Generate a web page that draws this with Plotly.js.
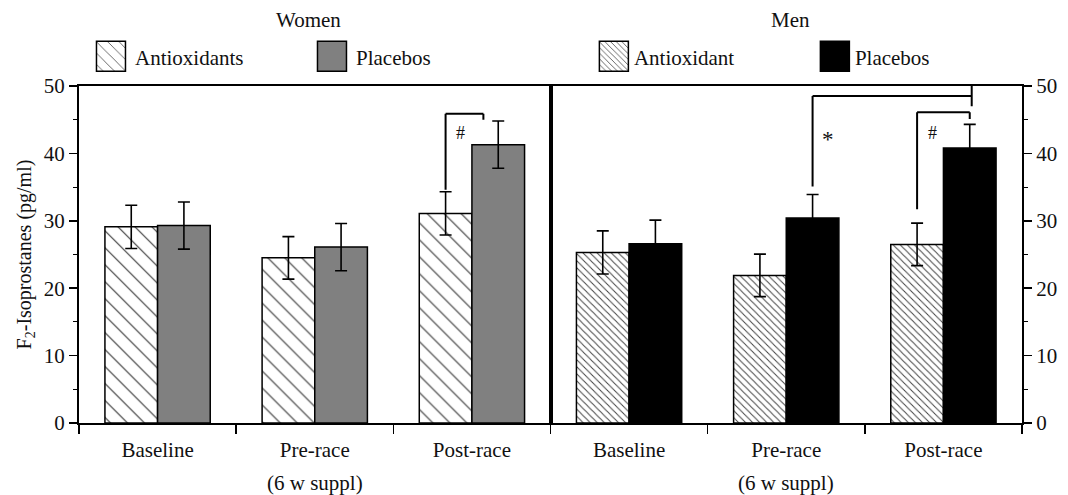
<!DOCTYPE html>
<html>
<head>
<meta charset="utf-8">
<script src="https://cdn.plot.ly/plotly-3.0.1.min.js"></script>
<style>html,body{margin:0;padding:0;background:#fff;}#chart{width:1068px;height:495px;}</style>
</head>
<body>
<div id="chart"></div>
<script>
var categories = ['Baseline', 'Pre-race', 'Post-race'];
var subLabel = '(6 w suppl)';
var womenAntioxidants = [29.1, 24.5, 31.1];
var womenAntioxidantsErr = [3.2, 3.15, 3.2];
var womenPlacebos = [29.3, 26.1, 41.3];
var womenPlacebosErr = [3.5, 3.5, 3.5];
var menAntioxidant = [25.3, 21.9, 26.5];
var menAntioxidantErr = [3.2, 3.15, 3.15];
var menPlacebos = [26.6, 30.4, 40.8];
var menPlacebosErr = [3.5, 3.5, 3.5];
var yTicks = [0, 10, 20, 30, 40, 50];

var FONT = 'Liberation Serif, Times New Roman, serif';
function err(arr) {
  return {type: 'data', array: arr, visible: true, color: '#000', thickness: 1.6, width: 6};
}
var traces = [
  {type: 'bar', name: 'Antioxidants', x: categories, y: womenAntioxidants, xaxis: 'x', yaxis: 'y', legend: 'legend',
   marker: {color: '#fff', line: {color: '#000', width: 1.5}, pattern: {shape: '\\', size: 12, solidity: 0.09, fgcolor: '#333', bgcolor: '#fff'}},
   error_y: err(womenAntioxidantsErr)},
  {type: 'bar', name: 'Placebos', x: categories, y: womenPlacebos, xaxis: 'x', yaxis: 'y', legend: 'legend',
   marker: {color: '#808080', line: {color: '#000', width: 1.5}},
   error_y: err(womenPlacebosErr)},
  {type: 'bar', name: 'Antioxidant', x: categories, y: menAntioxidant, xaxis: 'x2', yaxis: 'y2', legend: 'legend2',
   marker: {color: '#fff', line: {color: '#000', width: 1.5}, pattern: {shape: '\\', size: 5, solidity: 0.2, fgcolor: '#444', bgcolor: '#fff'}},
   error_y: err(menAntioxidantErr)},
  {type: 'bar', name: 'Placebos', x: categories, y: menPlacebos, xaxis: 'x2', yaxis: 'y2', legend: 'legend2',
   marker: {color: '#000', line: {color: '#000', width: 1.5}},
   error_y: err(menPlacebosErr)}
];

function xax(domain, anchor) {
  return {domain: domain, anchor: anchor, type: 'category', range: [-0.5, 2.5], tickson: 'boundaries',
    ticks: 'outside', ticklen: 9, tickwidth: 1.5, tickcolor: '#000', showline: true, linewidth: 2, linecolor: '#000',
    mirror: true, showgrid: false, zeroline: false, ticklabelstandoff: 7,
    tickfont: {family: FONT, size: 21, color: '#111'}, fixedrange: true};
}
function yax(anchor, side) {
  return {anchor: anchor, side: side, range: [0, 50], tickvals: yTicks, ticks: 'outside', ticklen: 8, tickwidth: 1.5,
    tickcolor: '#000', showline: true, linewidth: 2, linecolor: '#000', mirror: true, showgrid: false, zeroline: false,
    minor: {dtick: 5, ticks: 'outside', ticklen: 4, tickwidth: 1.2, tickcolor: '#000'},
    tickfont: {family: FONT, size: 21, color: '#111'}, fixedrange: true};
}

var yaxis1 = yax('x', 'left');
yaxis1.title = {text: 'F<sub>2</sub>-Isoprostanes (pg/ml)', font: {family: FONT, size: 20, color: '#111'}, standoff: 7};
var yaxis2 = yax('x2', 'right');
yaxis2.matches = 'y';

var off = 0.1675;
function seg(xr, yr, x0, y0, x1, y1) {
  return {type: 'line', xref: xr, yref: yr, x0: x0, y0: y0, x1: x1, y1: y1, line: {color: '#000', width: 2}};
}
var shapes = [
  // Women post-race bracket
  seg('x', 'y', 2 - off, 34.6, 2 - off, 45.9),
  seg('x', 'y', 2 - off, 45.9, 2.073, 45.9),
  seg('x', 'y', 2.073, 45.9, 2.073, 45.0),
  // Men post-race bracket
  seg('x2', 'y2', 2 - off, 31.7, 2 - off, 46.1),
  seg('x2', 'y2', 2 - off, 46.1, 2 + off, 46.1),
  seg('x2', 'y2', 2 + off, 46.1, 2 + off, 45.1),
  // Men pre vs post placebo bracket
  seg('x2', 'y2', 1 + off, 35.1, 1 + off, 48.5),
  seg('x2', 'y2', 1 + off, 48.5, 2.18, 48.5),
  seg('x2', 'y2', 2.18, 50, 2.18, 47.0)
];

var tf = {family: FONT, size: 21, color: '#111'};
var annotations = [
  {text: 'Women', xref: 'paper', yref: 'paper', x: 0.243, y: 1.196, showarrow: false, font: tf, xanchor: 'center', yanchor: 'middle'},
  {text: 'Men', xref: 'paper', yref: 'paper', x: 0.754, y: 1.196, showarrow: false, font: tf, xanchor: 'center', yanchor: 'middle'},
  {text: subLabel, xref: 'x', yref: 'paper', x: 1, y: -0.178, showarrow: false, font: tf, xanchor: 'center', yanchor: 'middle'},
  {text: subLabel, xref: 'x2', yref: 'paper', x: 1, y: -0.178, showarrow: false, font: tf, xanchor: 'center', yanchor: 'middle'},
  {text: '#', xref: 'x', yref: 'y', x: 1.927, y: 43.1, showarrow: false, font: {family: FONT, size: 18, color: '#111'}},
  {text: '#', xref: 'x2', yref: 'y2', x: 1.933, y: 43.1, showarrow: false, font: {family: FONT, size: 18, color: '#111'}},
  {text: '*', xref: 'x2', yref: 'y2', x: 1.265, y: 42.0, showarrow: false, font: {family: FONT, size: 23, color: '#111'}}
];

function leg(x) {
  return {orientation: 'h', x: x, xanchor: 'left', y: 1.087, yanchor: 'middle', bgcolor: 'rgba(0,0,0,0)',
    font: {family: FONT, size: 21, color: '#111'}, entrywidth: 176, entrywidthmode: 'pixels', itemclick: false, itemdoubleclick: false,
    traceorder: 'normal'};
}

var layout = {
  width: 1068, height: 495,
  margin: {l: 79, r: 46, t: 86, b: 72},
  paper_bgcolor: '#fff', plot_bgcolor: '#fff',
  barmode: 'group', bargap: 0.33, bargroupgap: 0,
  showlegend: true,
  legend: leg(0.0127),
  legend2: leg(0.546),
  xaxis: xax([0, 0.5], 'y'),
  xaxis2: xax([0.5, 1], 'y2'),
  yaxis: yaxis1,
  yaxis2: yaxis2,
  shapes: shapes,
  annotations: annotations,
  font: {family: FONT, color: '#111'}
};

Plotly.newPlot('chart', traces, layout, {displayModeBar: false, staticPlot: true}).then(function (gd) {
  var paths = gd.querySelectorAll('g.legendpoints path');
  paths.forEach(function (p) { p.setAttribute('d', 'M14.5,15H-14.5V-15H14.5Z'); });
  var texts = gd.querySelectorAll('text.legendtext');
  texts.forEach(function (t) { t.setAttribute('x', '44'); });
});
</script>
</body>
</html>
